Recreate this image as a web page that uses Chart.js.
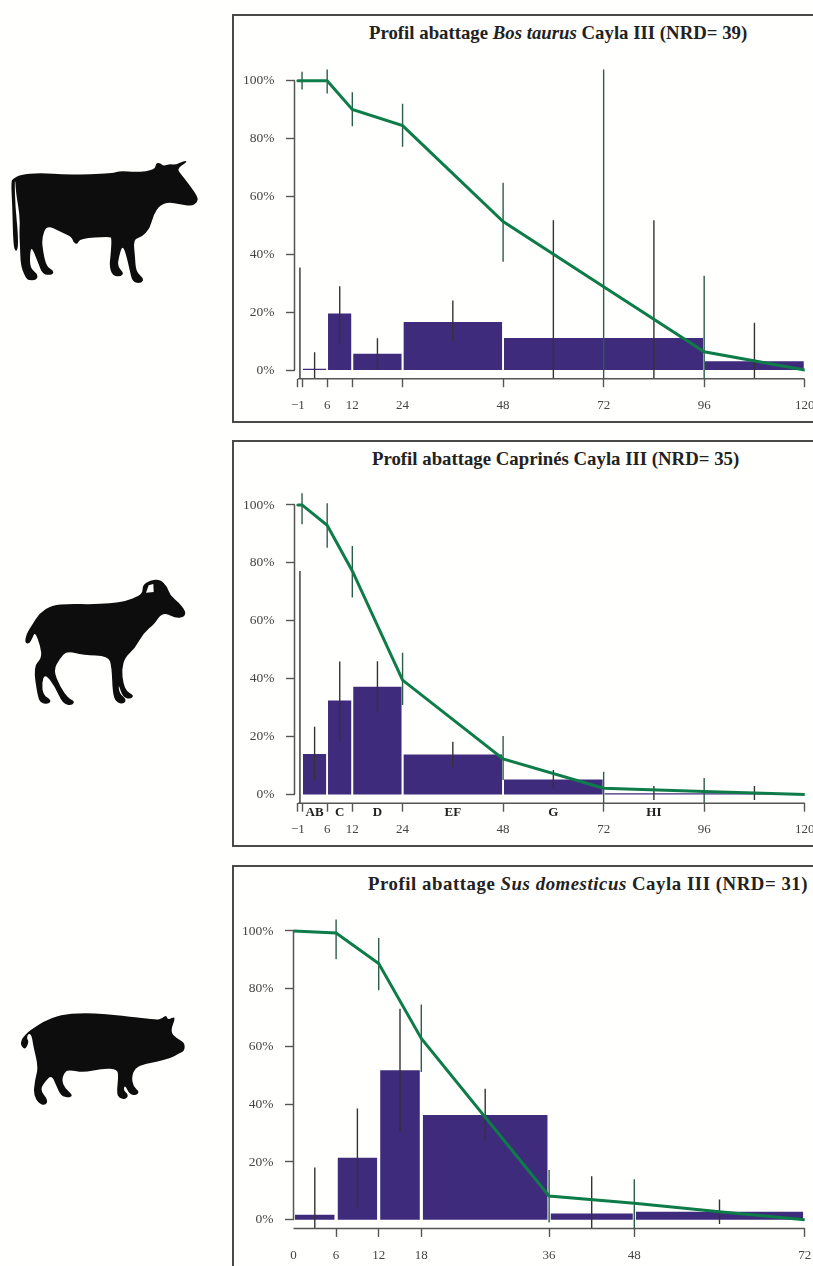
<!DOCTYPE html>
<html lang="fr">
<head>
<meta charset="utf-8">
<title>Profils d'abattage Cayla III</title>
<script src="https://cdn.jsdelivr.net/npm/chart.js@4"></script>
<style>
  html, body { margin: 0; padding: 0; background: #fffffd; }
  html { overflow: hidden; }
  body { position: relative; width: 813px; height: 1266px; overflow: hidden; }
  .frame { position: absolute; left: 232px; width: 700px; border: 2px solid #4a4a4a; box-sizing: border-box; }
  .titre { position: absolute; font: bold 18.8px "Liberation Serif", serif; color: #222; white-space: nowrap; line-height: 20px; }
  canvas { position: absolute; left: 234px; }
  svg { position: absolute; }
</style>
</head>
<body>
<svg style="left:0;top:140px" width="210" height="150" viewBox="0 0 630 450"><path class="animal" fill="#0d0d0d" data-points="40,115 60,105 120,98 200,105 340,100 360,92 410,97 465,90 468,68 482,70 490,78 510,72 525,75 555,61 562,66 530,85 545,105 565,130 592,168 594,185 575,199 540,192 505,187 480,195 460,225 450,265 425,292 400,298 405,350 408,395 432,416 424,430 398,427 390,395 380,350 368,315 358,345 352,380 372,398 362,410 338,407 328,380 332,345 335,295 330,290 240,295 232,314 220,307 215,290 180,275 140,255 125,295 130,340 140,380 162,393 157,405 128,404 115,370 95,320 90,340 90,385 114,403 110,420 83,422 73,405 62,375 60,320 58,280 60,230 48,160 46,122 44,126 46,200 54,280 54,332 43,332 39,290 37,200 33,125"></path></svg>
<svg style="left:10px;top:570px" width="190" height="150" viewBox="0 0 570 450"><path class="animal" fill="#0d0d0d" data-points="44,218 50,190 66,165 88,130 125,106 180,101 240,103 300,100 350,93 385,78 398,68 398,45 420,31 450,28 472,50 480,76 507,98 528,125 522,142 495,144 470,130 450,135 435,160 400,190 375,235 345,262 335,300 340,340 350,365 372,376 362,387 338,382 325,340 328,370 349,388 342,402 318,397 308,370 305,290 295,258 220,255 170,243 150,265 130,300 150,350 175,385 194,393 187,407 158,402 135,350 105,310 95,340 100,375 124,390 117,402 93,400 83,380 70,290 95,265 92,230 75,185 67,205 57,222"></path><polygon fill="#fffffd" points="408,68 416,46 430,42 431,66"/></svg>
<svg style="left:10px;top:1000px" width="190" height="120" viewBox="0 0 570 360"><path class="animal" fill="#0d0d0d" data-points="33,125 38,113 55,95 70,85 100,65 150,45 220,38 290,43 350,48 440,60 455,55 470,45 472,60 499,48 480,95 500,115 524,128 524,152 505,162 480,175 440,185 395,195 375,205 365,230 370,260 389,275 377,287 358,282 345,255 340,270 356,285 347,299 328,294 320,280 325,230 322,208 280,205 220,218 180,210 165,215 155,240 165,265 189,285 177,294 153,287 140,260 125,225 105,245 90,270 114,300 107,316 88,312 70,285 75,240 85,200 70,140 65,105 55,100 50,115 57,125 46,150 33,137"></path></svg>

<div class="frame" style="top:14px;height:409px"></div>
<div class="frame" style="top:440px;height:407px"></div>
<div class="frame" style="top:865px;height:500px"></div>

<div class="titre" style="left:369px;top:23px">Profil abattage <i>Bos taurus</i> Cayla III (NRD= 39)</div>
<div class="titre" style="left:372px;top:449px">Profil abattage Caprinés Cayla III (NRD= 35)</div>
<div class="titre" style="left:368px;top:874px;letter-spacing:.55px">Profil abattage <i>Sus domesticus</i> Cayla III (NRD= 31)</div>

<canvas id="chartBos" width="620" height="406" style="top:16px"></canvas>
<canvas id="chartCap" width="620" height="403" style="top:442px"></canvas>
<canvas id="chartSus" width="620" height="399" style="top:867px"></canvas>

<script>
// Axe Y commun
const yTicks = [0, 20, 40, 60, 80, 100];
const yTickLabels = ['0%', '20%', '40%', '60%', '80%', '100%'];

// Bos taurus
const bosXTicks = [-1, 0, 6, 12, 24, 48, 72, 96, 120];
const bosXLabels = ['−1', '', '6', '12', '24', '48', '72', '96', '120'];
const bosBinEdges = [0, 6, 12, 24, 48, 96, 120];
const bosBinHeights = [0.4, 19.5, 5.6, 16.6, 11.1, 3];
const bosBinErrX = [-0.5, 3, 9, 18, 36, 60, 84, 108];
const bosBinErrLow = [-3, -3, 9.3, 0, 9.8, -3, -3, -3];
const bosBinErrHigh = [35.4, 6.1, 29, 11, 24, 51.8, 51.8, 16.3];
const bosCurveX = [-1, 0, 6, 12, 24, 48, 72, 96, 120];
const bosCurveY = [100, 100, 100, 90.1, 84.5, 51.3, 28.8, 6.3, 0];
const bosCurveErrX = [0, 6, 12, 24, 48, 72, 96];
const bosCurveErrLow = [97, 95.6, 84.3, 77.2, 37.4, -3, -3];
const bosCurveErrHigh = [103.1, 103.9, 96, 92, 64.7, 103.9, 32.6];

// Caprinés
const capXTicks = [-1, 0, 6, 12, 24, 48, 72, 96, 120];
const capXLabels = ['−1', '', '6', '12', '24', '48', '72', '96', '120'];
const capBinEdges = [0, 6, 12, 24, 48, 72, 120];
const capBinHeights = [14, 32.5, 37.2, 13.8, 5.2, 0.4];
const capBinErrX = [-0.5, 3, 9, 18, 36, 60, 84, 108];
const capBinErrLow = [-3, 5, 18.2, 28.4, 9.6, 1.9, -1.9, -1.9];
const capBinErrHigh = [77.2, 23.4, 45.9, 46, 18.2, 8.5, 2.9, 2.9];
const capCurveX = [-1, 0, 6, 12, 24, 48, 72, 96, 120];
const capCurveY = [100, 100, 93, 77.2, 39.5, 12.3, 2.2, 1, 0];
const capCurveErrX = [0, 6, 12, 24, 48, 72, 96];
const capCurveErrLow = [93.3, 85.2, 68, 30.9, 5, -3, -3];
const capCurveErrHigh = [104, 100.6, 85.8, 49, 20.2, 7.9, 5.7];
const capClassLabels = ['AB', 'C', 'D', 'EF', 'G', 'HI'];
const capClassX = [3, 9, 18, 36, 60, 84];

// Sus domesticus
const susXTicks = [0, 6, 12, 18, 36, 48, 72];
const susXLabels = ['0', '6', '12', '18', '36', '48', '72'];
const susBinEdges = [0, 6, 12, 18, 36, 48, 72];
const susBinHeights = [1.7, 21.5, 51.8, 36.3, 2.2, 2.8];
const susBinErrX = [3, 9, 15, 27, 42, 60];
const susBinErrLow = [-3, 4.3, 30.4, 27, -3, -1.5];
const susBinErrHigh = [18.1, 38.5, 73.1, 45.4, 15.1, 7];
const susCurveX = [0, 6, 12, 18, 36, 48, 60, 72];
const susCurveY = [100, 99.3, 88.7, 62.8, 8.2, 5.7, 2.8, 0];
const susCurveErrX = [6, 12, 18, 36, 48];
const susCurveErrLow = [90.2, 79.5, 51.2, -1, -3];
const susCurveErrHigh = [104, 97.6, 74.5, 17.2, 14];

const AXIS_COLOR = '#555';
const TEXT_COLOR = '#444';
const BAR_COLOR = '#3e2b7c';
const CURVE_COLOR = '#0e7c48';
const BIN_ERR_COLOR = '#333';
const CURVE_ERR_COLOR = '#2e5c4a';
const SERIF = '"Liberation Serif", serif';

// Contours des animaux : coins arrondis par des courbes passant par les milieux
document.querySelectorAll('.animal').forEach(path => {
  const pts = path.dataset.points.split(' ').map(p => p.split(',').map(Number));
  const mid = (a, b) => [(a[0] + b[0]) / 2, (a[1] + b[1]) / 2];
  const start = mid(pts[pts.length - 1], pts[0]);
  let d = `M${start[0]} ${start[1]}`;
  pts.forEach((p, i) => {
    const m = mid(p, pts[(i + 1) % pts.length]);
    d += ` Q${p[0]} ${p[1]} ${m[0]} ${m[1]}`;
  });
  path.setAttribute('d', d + 'Z');
});

// Chaque classe d'âge est un segment rempli jusqu'à y=0 (largeur variable)
const binDatasets = (edges, heights, gap) => heights.map((h, i) => ({
  type: 'line',
  data: [{ x: edges[i] + gap, y: h }, { x: edges[i + 1] - gap, y: h }],
  fill: 'origin',
  backgroundColor: BAR_COLOR,
  borderWidth: 0,
  pointRadius: 0,
  order: 3
}));

const errorDataset = (xs, lows, highs, color, order) => ({
  type: 'line',
  data: xs.flatMap((x, i) => [{ x, y: lows[i] }, { x, y: highs[i] }, { x, y: null }]),
  borderColor: color,
  borderWidth: 1.4,
  pointRadius: 0,
  spanGaps: false,
  order
});

// Axes à la façon de R : les traits s'arrêtent au premier et au dernier repère
const axisLines = {
  id: 'axisLines',
  afterDraw(chart) {
    const { ctx, scales: { x, y }, chartArea } = chart;
    const ticks = x.ticks.map(t => t.value);
    ctx.save();
    ctx.strokeStyle = AXIS_COLOR;
    ctx.lineWidth = 1.5;
    ctx.beginPath();
    ctx.moveTo(chartArea.left, y.getPixelForValue(100));
    ctx.lineTo(chartArea.left, y.getPixelForValue(0));
    ctx.moveTo(x.getPixelForValue(Math.min(...ticks)), chartArea.bottom);
    ctx.lineTo(x.getPixelForValue(Math.max(...ticks)), chartArea.bottom);
    ctx.stroke();
    ctx.restore();
  }
};

// Lettres des classes d'âge sous l'axe (Caprinés)
const classLabels = {
  id: 'classLabels',
  afterDraw(chart, args, opts) {
    if (!opts.labels) return;
    const { ctx, scales: { x }, chartArea } = chart;
    ctx.save();
    ctx.font = 'bold 13px ' + SERIF;
    ctx.fillStyle = '#222';
    ctx.textAlign = 'center';
    ctx.textBaseline = 'middle';
    opts.labels.forEach((label, i) => {
      ctx.fillText(label, x.getPixelForValue(opts.positions[i]), chartArea.bottom + 9);
    });
    ctx.restore();
  }
};

const createProfile = (id, p) => new Chart(document.getElementById(id), {
  type: 'line',
  data: {
    datasets: [
      {
        data: p.curveX.map((x, i) => ({ x, y: p.curveY[i] })),
        borderColor: CURVE_COLOR,
        borderWidth: 3,
        borderCapStyle: 'round',
        pointRadius: 0,
        tension: 0,
        order: 0
      },
      errorDataset(p.curveErrX, p.curveErrLow, p.curveErrHigh, CURVE_ERR_COLOR, 1),
      errorDataset(p.binErrX, p.binErrLow, p.binErrHigh, BIN_ERR_COLOR, 2),
      ...binDatasets(p.binEdges, p.binHeights, 0.2)
    ]
  },
  options: {
    responsive: false,
    animation: false,
    // le canvas dépasse à droite de la page, la marge garde 120 à sa place
    layout: { autoPadding: false, padding: { top: p.padTop, right: 49.3, left: 0, bottom: 0 } },
    scales: {
      x: {
        type: 'linear',
        min: p.xMin,
        max: p.xMax,
        afterBuildTicks: s => { s.ticks = p.xTicks.map(value => ({ value })); },
        afterFit: s => { s.height = p.xAxisHeight; },
        border: { display: false },
        grid: {
          drawOnChartArea: false,
          tickLength: 8.5,
          tickWidth: 1.4,
          tickColor: c => (p.hideZeroTick && c.tick.value === 0 ? 'rgba(0,0,0,0)' : AXIS_COLOR)
        },
        ticks: {
          autoSkip: false,
          maxRotation: 0,
          padding: 10.5,
          color: TEXT_COLOR,
          font: { family: SERIF, size: 13 },
          callback: (v, i) => p.xLabels[i]
        }
      },
      y: {
        type: 'linear',
        min: -3,
        max: 110,
        afterBuildTicks: s => { s.ticks = yTicks.map(value => ({ value })); },
        afterFit: s => { s.width = p.yAxisWidth; },
        border: { display: false },
        grid: { drawOnChartArea: false, tickLength: 8.5, tickWidth: 1.4, tickColor: AXIS_COLOR },
        ticks: {
          padding: 11.5,
          color: TEXT_COLOR,
          font: { family: SERIF, size: 13.5 },
          callback: (v, i) => yTickLabels[i]
        }
      }
    },
    plugins: {
      legend: { display: false },
      tooltip: { enabled: false },
      classLabels: { labels: p.classLabels, positions: p.classX }
    }
  },
  plugins: [axisLines, classLabels]
});

createProfile('chartBos', {
  xTicks: bosXTicks, xLabels: bosXLabels, binEdges: bosBinEdges, binHeights: bosBinHeights,
  binErrX: bosBinErrX, binErrLow: bosBinErrLow, binErrHigh: bosBinErrHigh,
  curveX: bosCurveX, curveY: bosCurveY,
  curveErrX: bosCurveErrX, curveErrLow: bosCurveErrLow, curveErrHigh: bosCurveErrHigh,
  xMin: -1.8, xMax: 120, yAxisWidth: 60.5, xAxisHeight: 43.3, padTop: 35.8
});

createProfile('chartCap', {
  xTicks: capXTicks, xLabels: capXLabels, binEdges: capBinEdges, binHeights: capBinHeights,
  binErrX: capBinErrX, binErrLow: capBinErrLow, binErrHigh: capBinErrHigh,
  curveX: capCurveX, curveY: capCurveY,
  curveErrX: capCurveErrX, curveErrLow: capCurveErrLow, curveErrHigh: capCurveErrHigh,
  classLabels: capClassLabels, classX: capClassX,
  xMin: -1.8, xMax: 120, yAxisWidth: 60.5, xAxisHeight: 41.8, padTop: 34
});

createProfile('chartSus', {
  xTicks: susXTicks, xLabels: susXLabels, binEdges: susBinEdges, binHeights: susBinHeights,
  binErrX: susBinErrX, binErrLow: susBinErrLow, binErrHigh: susBinErrHigh,
  curveX: susCurveX, curveY: susCurveY,
  curveErrX: susCurveErrX, curveErrLow: susCurveErrLow, curveErrHigh: susCurveErrHigh,
  hideZeroTick: true,
  xMin: 0, xMax: 72, yAxisWidth: 59.5, xAxisHeight: 37.6, padTop: 35.1
});
</script>
</body>
</html>
